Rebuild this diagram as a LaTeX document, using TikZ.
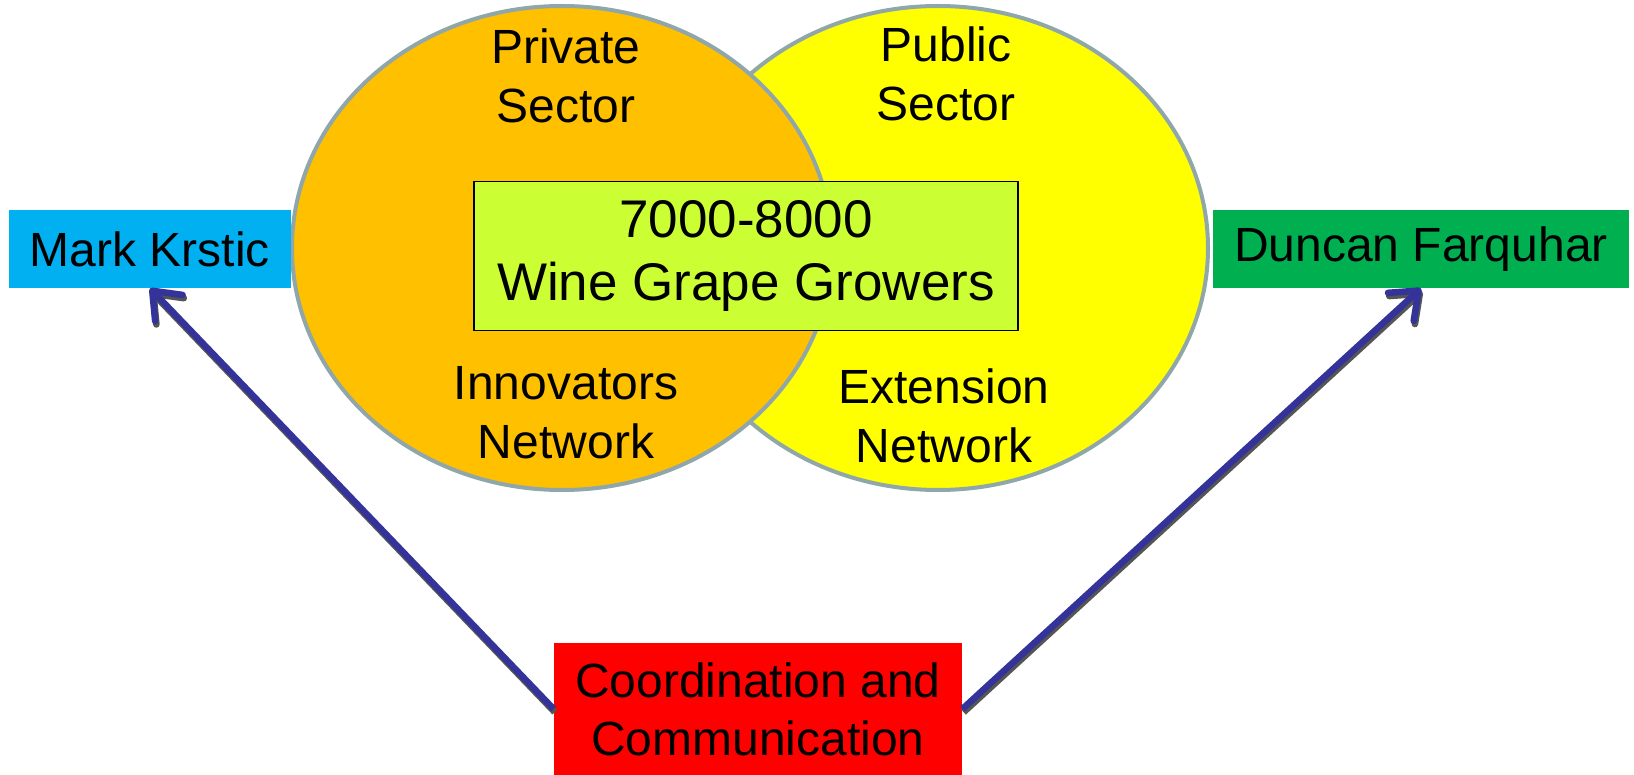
\documentclass[tikz,border=0pt]{standalone}
\usepackage{fontspec}
\setmainfont{Liberation Sans}
\usetikzlibrary{arrows.meta}

\definecolor{skyblue}{HTML}{00B0F0}
\definecolor{leafgreen}{HTML}{00B050}
\definecolor{alarmred}{HTML}{FF0000}
\definecolor{amber}{HTML}{FFC000}
\definecolor{lemon}{HTML}{FFFF00}
\definecolor{lime}{HTML}{CCFF33}
\definecolor{ringgray}{HTML}{8FA7AB}
\definecolor{linkblue}{HTML}{333399}
\definecolor{shadegray}{HTML}{555555}

\begin{document}
\begin{tikzpicture}[x=0.5pt,y=-0.5pt,>={Straight Barb[length=12pt,width=19pt,round]},
    name box/.style={inner sep=0pt,align=center,font=\fontsize{24}{29}\selectfont},
    ring/.style={draw=ringgray,line width=2pt},
    sector text/.style={align=center,font=\fontsize{24}{29.5}\selectfont},
    link/.style={->,line width=3.3pt,draw=linkblue},
    link shade/.style={link,draw=shadegray,transform canvas={xshift=0.6pt,yshift=-1.6pt}}]
    \useasboundingbox (0,0) rectangle (1634,775);

    % the two sectors
    \draw[ring,fill=lemon] (938,248) ellipse [x radius=135pt,y radius=121pt];
    \draw[ring,fill=amber] (562,248) ellipse [x radius=135pt,y radius=121pt];

    \node[sector text] (private) at (566,76) {Private\\Sector};
    \node[sector text] (public) at (946,74) {Public\\Sector};
    \node[sector text] (innov) at (566,413) {Innovators\\Network};
    \node[sector text] (ext) at (944,416) {Extension\\Network};

    \node[name box,draw=black,line width=0.75pt,fill=lime,minimum width=272pt,minimum height=74.5pt,
        font=\fontsize{26.5}{31.5}\selectfont] (growers) at (746,256) {7000-8000\\Wine Grape Growers};

    % people and coordination
    \node[name box,fill=skyblue,minimum width=141pt,minimum height=39pt] (mark) at (150,249) {Mark Krstic};
    \node[name box,fill=leafgreen,minimum width=208pt,minimum height=39pt] (duncan) at (1421,249) {Duncan Farquhar};
    \node[name box,fill=alarmred,minimum width=204pt,minimum height=66pt] (coord) at (758,709) {Coordination and\\Communication};

    \draw[link shade] (coord.west) -- (mark.south);
    \draw[link shade] (coord.east) -- (duncan.south);
    \draw[link] (coord.west) -- (mark.south);
    \draw[link] (coord.east) -- (duncan.south);
\end{tikzpicture}
\end{document}
